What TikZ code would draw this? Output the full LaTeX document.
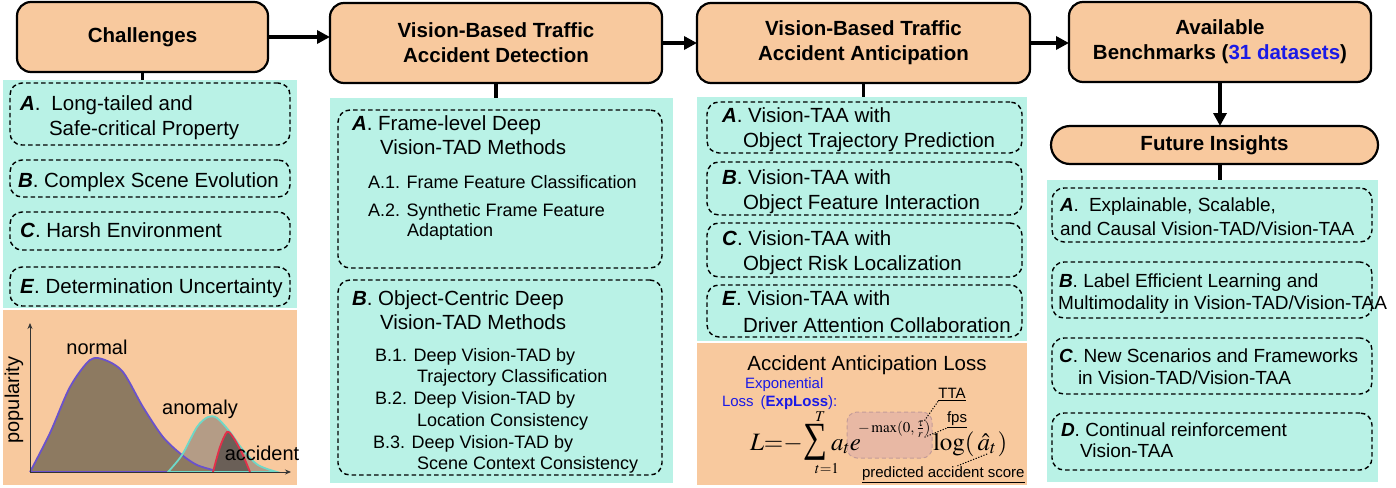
\documentclass[tikz,border=0pt]{standalone}
\usepackage{mathptmx}
\usepackage{exscale}
\usepackage[no-math]{fontspec}
\setmainfont{Liberation Sans}
\newfontfamily\sumfont{Liberation Serif}
\usetikzlibrary{arrows.meta,fit}

\definecolor{boxorange}{HTML}{F8C99E}
\definecolor{panelcyan}{HTML}{B9F2E6}
\definecolor{linkblue}{HTML}{1A1AE6}
\definecolor{normfill}{HTML}{8D7A61}
\definecolor{normline}{HTML}{6A52CC}
\definecolor{anomfill}{HTML}{B49C86}
\definecolor{anomline}{HTML}{6ED8C8}
\definecolor{accfill}{HTML}{6A5F57}
\definecolor{accline}{HTML}{E3304A}
\definecolor{hilite}{HTML}{E8B8A4}
\definecolor{hiliteline}{HTML}{C49C98}

\begin{document}
\begin{tikzpicture}[x=1pt,y=-1pt,
  every node/.style={inner sep=0pt, outer sep=0pt},
  header/.style={draw=black, line width=2.2pt, fill=boxorange, rounded corners=14pt,
    font=\fontsize{20.5}{25}\selectfont\bfseries, align=center},
  panel/.style={fill=#1, draw=none, inner sep=0pt},
  dbox/.style={draw=black, line width=1.4pt, dash pattern=on 4.5pt off 3pt,
    rounded corners=12pt, inner sep=0pt},
  txt/.style={anchor=base west, font=\fontsize{20.5}{25}\selectfont},
  subtxt/.style={anchor=base west, font=\fontsize{18}{22}\selectfont},
  futtxt/.style={anchor=base west, font=\fontsize{19}{23}\selectfont},
  small/.style={font=\fontsize{15}{18}\selectfont},
  mathbig/.style={anchor=base west, font=\fontsize{25}{30}\selectfont},
  mathexp/.style={anchor=base west, font=\fontsize{15}{18}\selectfont},
  flow/.style={line width=3.5pt, -{Triangle[length=13pt,width=13pt]}},
  stub/.style={line width=3.5pt},
  pointer/.style={line width=1pt, dash pattern=on 1.2pt off 1.6pt},
]
\fill[white] (0,0) rectangle (1396,487);
\useasboundingbox (0,0) rectangle (1396,487);

% ---------- coloured panels ----------
\node[panel=panelcyan, fit={(3,80) (297,308)}] (chalpanel) {};
\node[panel=boxorange, fit={(3,310) (297,485)}] (chartpanel) {};
\node[panel=panelcyan, fit={(330,98) (673,483)}] (detpanel) {};
\node[panel=panelcyan, fit={(697,97) (1027,341)}] (antpanel) {};
\node[panel=boxorange, fit={(697,343) (1027,485)}] (losspanel) {};
\node[panel=panelcyan, fit={(1047,180) (1378,482)}] (futpanel) {};

% ---------- headers ----------
\node[header, minimum width=251pt, minimum height=70pt] (chal) at (142.5,37) {Challenges};
\node[header, minimum width=332pt, minimum height=80pt] (det) at (496,43)
  {Vision-Based Traffic\\Accident Detection};
\node[header, minimum width=333pt, minimum height=80pt] (ant) at (863.5,43)
  {Vision-Based Traffic\\Accident Anticipation};
\node[header, minimum width=302pt, minimum height=80pt] (bench) at (1220,42)
  {Available\\Benchmarks (\textcolor{linkblue}{31 datasets})};
\node[header, rounded corners=19pt, minimum width=327pt, minimum height=38pt] (fut) at (1214.5,145)
  {Future Insights};

% ---------- flow ----------
\draw[flow] (chal.east) -- (det.west |- chal.east);
\draw[flow] (det.east) -- (ant.west);
\draw[flow] (ant.east) -- (bench.west |- ant.east);
\draw[flow] (bench.south) -- (fut.north -| bench.south);
\draw[stub] (chal.south) -- (chalpanel.north -| chal.south);
\draw[stub] (det.south) -- (detpanel.north -| det.south);
\draw[stub] (ant.south) -- (antpanel.north -| ant.south);
\draw[stub] (fut.south -| bench.south) -- (futpanel.north -| bench.south);

% ---------- challenges ----------
\node[dbox, fit={(10,83) (290,145)}] (chA) {};
\node[dbox, fit={(10,160) (290,197)}] (chB) {};
\node[dbox, fit={(10,212) (290,250)}] (chC) {};
\node[dbox, fit={(10,267) (290,306)}] (chE) {};
\node[txt] (chAt1) at (20,110) {\textbf{\textit{A}}.\hspace{11pt}Long-tailed and};
\node[txt] (chAt2) at (49,135) {Safe-critical Property};
\node[txt] (chBt) at (18,187) {\textbf{\textit{B}}. Complex Scene Evolution};
\node[txt] (chCt) at (20,237) {\textbf{\textit{C}}. Harsh Environment};
\node[txt] (chEt) at (20,293) {\textbf{\textit{E}}. Determination Uncertainty};

% ---------- distribution sketch ----------
\fill[anomfill] plot[smooth, tension=0.5] coordinates
  {(168,472) (182,455) (197,427) (208,417) (217,418) (230,432) (243,450) (258,465) (277,472)} -- cycle;
\fill[normfill] plot[smooth, tension=0.5] coordinates
  {(30,472) (50,433) (70,387) (90,360) (105,360) (123,372) (143,407) (163,437) (182,455) (197,465) (213,470)} -- (213,472) -- cycle;
\fill[accfill] plot[smooth, tension=0.5] coordinates
  {(213,472) (220,447) (227,432) (233,437) (242,453) (250,472)} -- cycle;
\draw[normline, line width=1.8pt] (168,472) -- (30,472) plot[smooth, tension=0.5] coordinates
  {(30,472) (50,433) (70,387) (90,360) (105,360) (123,372) (143,407) (163,437) (182,455) (197,465) (213,470)};
\draw[anomline, line width=1.8pt] plot[smooth, tension=0.5] coordinates
  {(168,472) (182,455) (197,427) (208,417) (217,418) (230,432) (243,450) (258,465) (277,472)} -- cycle;
\draw[accline, line width=1.8pt] plot[smooth, tension=0.5] coordinates
  {(213,472) (220,447) (227,432) (233,437) (242,453) (250,472)};
\coordinate (origin) at (30,472);
\coordinate (xtip) at (291,472);
\coordinate (ytip) at (30,323);
\draw[line width=0.8pt, black!80, -{Stealth[length=6pt,width=5pt]}] (origin) -- (xtip);
\draw[line width=0.8pt, black!80, -{Stealth[length=6pt,width=5pt]}] (origin) -- (ytip);
\node[anchor=base, font=\fontsize{20}{24}\selectfont] (lnormal) at (97,354) {normal};
\node[anchor=base, font=\fontsize{20}{24}\selectfont] (lanom) at (200,414) {anomaly};
\node[anchor=base, font=\fontsize{20}{24}\selectfont] (lacc) at (262,460) {accident};
\node[rotate=90, font=\fontsize{20}{24}\selectfont] (lpop) at (14,400) {popularity};

% ---------- detection ----------
\node[dbox, fit={(338,110) (662,268)}] (detA) {};
\node[dbox, fit={(338,280) (662,475)}] (detB) {};
\node[txt] (dA1) at (352,130) {\textbf{\textit{A}}. Frame-level Deep};
\node[txt] (dA2) at (380,154) {Vision-TAD Methods};
\node[subtxt] (dA3) at (368,188.5) {A.1. Frame Feature Classification};
\node[subtxt] (dA4) at (368,216.5) {A.2. Synthetic Frame Feature};
\node[subtxt] (dA5) at (407,236.5) {Adaptation};
\node[txt] (dB1) at (352,305) {\textbf{\textit{B}}. Object-Centric Deep};
\node[txt] (dB2) at (380,329) {Vision-TAD Methods};
\node[subtxt] (dB3) at (375,361.5) {B.1. Deep Vision-TAD by};
\node[subtxt] (dB4) at (417,382.5) {Trajectory Classification};
\node[subtxt] (dB5) at (375,404.5) {B.2. Deep Vision-TAD by};
\node[subtxt] (dB6) at (417,426.5) {Location Consistency};
\node[subtxt] (dB7) at (373,448.5) {B.3. Deep Vision-TAD by};
\node[subtxt] (dB8) at (417,469.5) {Scene Context Consistency};

% ---------- anticipation ----------
\node[dbox, fit={(707,102) (1022,153)}] (antA) {};
\node[dbox, fit={(707,162) (1022,215)}] (antB) {};
\node[dbox, fit={(707,223) (1022,277)}] (antC) {};
\node[dbox, fit={(707,285) (1022,337)}] (antE) {};
\node[txt] (aA1) at (722,122) {\textbf{\textit{A}}. Vision-TAA with};
\node[txt] (aA2) at (743,147) {Object Trajectory Prediction};
\node[txt] (aB1) at (722,184) {\textbf{\textit{B}}. Vision-TAA with};
\node[txt] (aB2) at (743,209) {Object Feature Interaction};
\node[txt] (aC1) at (722,245) {\textbf{\textit{C}}. Vision-TAA with};
\node[txt] (aC2) at (743,270) {Object Risk Localization};
\node[txt] (aE1) at (722,305) {\textbf{\textit{E}}. Vision-TAA with};
\node[txt] (aE2) at (743,332) {Driver Attention Collaboration};

% ---------- loss ----------
\node[anchor=base, font=\fontsize{20.5}{25}\selectfont] (losstitle) at (867,370) {Accident Anticipation Loss};
\node[anchor=base west, small, text=linkblue] (expl1) at (745,388.5) {Exponential};
\node[anchor=base west, small, text=linkblue] (expl2) at (722,406.5) {Loss\hspace{7pt}(\textbf{ExpLoss}):};
\node[fill=hilite, draw=hiliteline, line width=1pt, dash pattern=on 4pt off 3pt,
  rounded corners=10pt, fit={(847,412) (932,458)}] (expbox) {};
% L = - sum_{t=1}^{T} a_t e^{-max(0, tau/r)} log(hat a_t)
\node[mathbig] (lossL) at (750,450) {$L{=}{-}$};
\node (sumsym) at (815,442) {\resizebox*{24pt}{36pt}{\sumfont ∑}};
\node[anchor=base, mathexp] (sumT) at (815,421) {$T$};
\node[anchor=base, mathexp] (sumlow) at (815,473) {$t{=}1$};
\node[mathbig] (at) at (831,450) {$a_t$};
\node[mathbig] (ee) at (at.base east) {$e$};
\node[mathexp] (expA) at (858,432) {$-\max(0,\,$};
\node[mathexp] (taufrac) at (expA.base east) {$\frac{\tau}{r}$};
\node[mathexp] (expC) at (taufrac.base east) {$)$};
\node[mathbig] (logA) at (933,450) {$\log($};
\node[mathbig] (ahat) at ([xshift=3pt]logA.base east) {$\hat{a}_t$};
\node[mathbig] (logC) at ([xshift=1pt]ahat.base east) {$)$};
\node[anchor=base, small] (tta) at (952,398) {\underline{TTA}};
\node[anchor=base, small] (fps) at (957,422) {\underline{fps}};
\node[anchor=base west, small] (score) at (862,477) {\underline{predicted accident score}};
\coordinate (scorePt) at (957,466);
\draw[pointer] (taufrac.north east) -- (tta.south west);
\draw[pointer] (taufrac.south east) -- (fps.south west);
\draw[pointer] (ahat.south) -- (scorePt);

% ---------- future insights ----------
\node[dbox, fit={(1052,188) (1372,242)}] (fA) {};
\node[dbox, fit={(1052,262) (1372,318)}] (fB) {};
\node[dbox, fit={(1052,338) (1372,394)}] (fC) {};
\node[dbox, fit={(1052,413) (1372,470)}] (fD) {};
\node[futtxt] (fA1) at (1060,211) {\textbf{\textit{A}}.\hspace{10pt}Explainable, Scalable,};
\node[futtxt] (fA2) at (1060,235) {and Causal Vision-TAD/Vision-TAA};
\node[futtxt] (fB1) at (1059,287) {\textbf{\textit{B}}. Label Efficient Learning and};
\node[futtxt] (fB2) at (1058,309) {Multimodality in Vision-TAD/Vision-TAA};
\node[futtxt] (fC1) at (1059,362) {\textbf{\textit{C}}. New Scenarios and Frameworks};
\node[futtxt] (fC2) at (1078,384) {in Vision-TAD/Vision-TAA};
\node[futtxt] (fD1) at (1061,436) {\textbf{\textit{D}}. Continual reinforcement};
\node[futtxt] (fD2) at (1080,457) {Vision-TAA};
\end{tikzpicture}
\end{document}
